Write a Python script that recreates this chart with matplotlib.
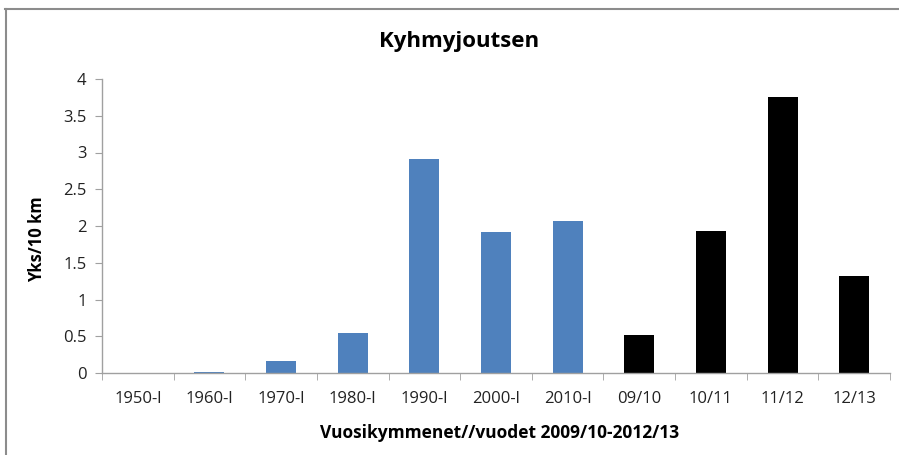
import matplotlib
matplotlib.use("Agg")
import matplotlib.pyplot as plt
from matplotlib.lines import Line2D

categories = ["1950-l", "1960-l", "1970-l", "1980-l", "1990-l", "2000-l", "2010-l",
              "09/10", "10/11", "11/12", "12/13"]
values = [0.0, 0.02, 0.16, 0.55, 2.91, 1.92, 2.07, 0.52, 1.93, 3.75, 1.32]
colors = ["#4F81BD"] * 7 + ["#000000"] * 4

plt.rcParams['font.family'] = ['Open Sans', 'DejaVu Sans']

fig = plt.figure(figsize=(8.99, 4.55), dpi=100)
ax = fig.add_axes([102/899, 1 - 373/455, 788/899, 294/455])

x = list(range(len(categories)))
ax.bar(x, values, width=0.42, color=colors)

ax.set_xlim(-0.5, len(categories) - 0.5)
ax.set_ylim(0, 4)
ax.set_yticks([0, 0.5, 1, 1.5, 2, 2.5, 3, 3.5, 4])
ax.set_yticklabels(["0", "0.5", "1", "1.5", "2", "2.5", "3", "3.5", "4"])
ax.set_xticks(x)
ax.set_xticklabels(categories)
ax.set_xticks([i - 0.5 for i in range(len(categories) + 1)], minor=True)
ax.tick_params(axis='x', which='major', length=0, pad=13, labelsize=12, colors='#222222')
ax.tick_params(axis='x', which='minor', length=5, color='#A0A0A0')
ax.tick_params(axis='y', length=5, color='#A0A0A0', labelsize=12, labelcolor='#222222', pad=6)

for s in ['top', 'right']:
    ax.spines[s].set_visible(False)
for s in ['left', 'bottom']:
    ax.spines[s].set_color('#A0A0A0')
    ax.spines[s].set_linewidth(1.0)

fig.text(459/899, 1 - 42/455, "Kyhmyjoutsen", fontsize=16, fontweight='bold',
         ha='center', va='center')
fig.text(500/899, 1 - 433/455, "Vuosikymmenet//vuodet 2009/10-2012/13", fontsize=12.5,
         fontweight='bold', ha='center', va='center')
fig.text(37/899, 1 - 239/455, "Yks/10 km", fontsize=12, fontweight='bold',
         ha='center', va='center', rotation=90)

fig.add_artist(Line2D([5/899, 1.0], [1 - 8.5/455, 1 - 8.5/455], transform=fig.transFigure,
                      color='#8C8C8C', linewidth=1.5))
fig.add_artist(Line2D([5.5/899, 5.5/899], [0, 1 - 8.5/455], transform=fig.transFigure,
                      color='#8C8C8C', linewidth=1.5))

fig.savefig("out.png", dpi=100)
